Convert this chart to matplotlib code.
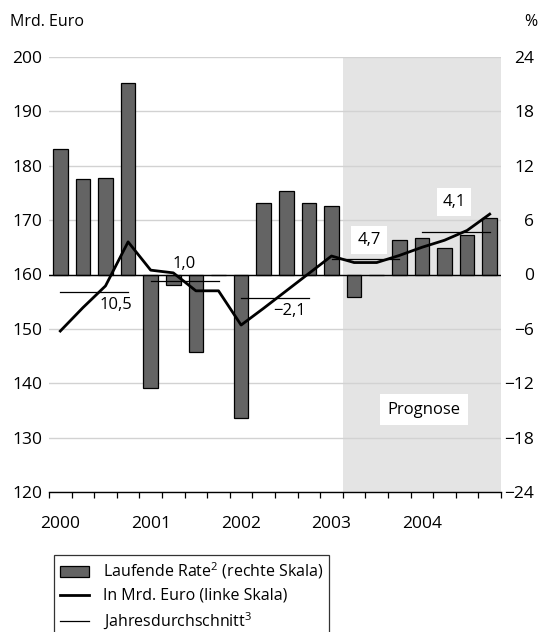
import matplotlib
matplotlib.use("Agg")
import matplotlib.pyplot as plt
from matplotlib.patches import Patch
from matplotlib.lines import Line2D

plt.rcParams['font.family'] = ['Open Sans', 'DejaVu Sans']
plt.rcParams['mathtext.fontset'] = 'custom'
plt.rcParams['mathtext.rm'] = 'Open Sans'
plt.rcParams['mathtext.it'] = 'Open Sans'

# quarterly values 2000 Q1 .. 2004 Q4
years = ["2000", "2001", "2002", "2003", "2004"]
rate = [13.8, 10.5, 10.7, 21.1, -12.5, -1.2, -8.5, 0.0, -15.8, 7.9,
        9.2, 7.9, 7.6, -2.5, 0.0, 3.8, 4.0, 2.9, 4.4, 6.2]
level = [149.6, 153.9, 157.9, 166.0, 160.8, 160.3, 157.0, 157.0, 150.7, 153.8,
         157.0, 160.2, 163.4, 162.2, 162.2, 163.5, 165.0, 166.3, 168.1, 171.1]
year_avg = [156.7, 158.8, 155.6, 162.9, 167.8]
avg_labels = ["10,5", "1,0", "\u22122,1", "4,7", "4,1"]
left_ticks = [120, 130, 140, 150, 160, 170, 180, 190, 200]
right_ticks = [-24, -18, -12, -6, 0, 6, 12, 18, 24]

x = list(range(len(rate)))

fig = plt.figure(figsize=(5.38, 6.32), dpi=100)
ax2 = fig.add_axes([49/538, 1-492/632, 452/538, 435/632])
ax = ax2.twinx()
ax.set_zorder(3)
ax.patch.set_visible(False)

# right scale: shading, grid, bars
ax2.axvspan(12.5, 19.5, color="#e4e4e4", zorder=0.2, lw=0)
ax2.set_axisbelow(True)
ax2.grid(axis="y", color="#d2d2d2", lw=1.0)
ax2.bar(x, rate, width=0.64, color="#646464", edgecolor="black", lw=0.9, zorder=2)
ax2.axhline(0, color="black", lw=1.0, zorder=2.5)
ax2.set_ylim(-24, 24)
ax2.set_xlim(-0.5, 19.5)
ax2.set_yticks(right_ticks)
ax2.set_yticklabels([str(v).replace("-", "\u2212") for v in right_ticks])
ax2.yaxis.tick_right()
ax2.tick_params(axis="y", length=0, pad=24, labelsize=12.5)
for t in ax2.get_yticklabels():
    t.set_horizontalalignment("right")

# bottom axis with quarter ticks and year labels
ax2.set_xticks([0, 4, 8, 12, 16])
ax2.set_xticklabels(years)
ax2.set_xticks([i - 0.5 for i in range(21)], minor=True)
ax2.tick_params(axis="x", which="major", length=0, pad=17, labelsize=12.5)
ax2.tick_params(axis="x", which="minor", length=4.5, width=0.9, direction="out")
for s in ["top", "left", "right"]:
    ax2.spines[s].set_visible(False)
    ax.spines[s].set_visible(False)
ax2.spines["bottom"].set_linewidth(1.0)
ax.spines["bottom"].set_visible(False)

# left scale: level line, yearly averages, labels
ax.plot(x, level, color="black", lw=2.0, zorder=4)
for k, v in enumerate(year_avg):
    ax.plot([4*k, 4*k + 3], [v, v], color="black", lw=0.9, zorder=3.5)
ax.set_ylim(120, 200)
ax.set_yticks(left_ticks)
ax.yaxis.tick_left()
ax.tick_params(axis="y", length=0, pad=5, labelsize=12.5)
ax.tick_params(axis="x", length=0)

lab_pos = [(2.45, 154.3), (5.5, 161.9), (10.15, 153.3), (13.66, 166.3), (17.42, 173.3)]
for (lx, ly), s in zip(lab_pos, avg_labels):
    if s in ("4,7", "4,1"):
        ax.text(lx, ly, s, ha="center", va="center", fontsize=12, zorder=5,
                bbox=dict(boxstyle="square,pad=0.35", fc="white", ec="none"))
    else:
        ax.text(lx, ly, s, ha="center", va="center", fontsize=12, zorder=5)
ax.text(16.1, 135.1, "Prognose", ha="center", va="center", fontsize=12, zorder=5,
        bbox=dict(boxstyle="square,pad=0.45", fc="white", ec="none"))

fig.text(10/538, 1-22/632, "Mrd. Euro", ha="left", va="center", fontsize=11.5)
fig.text(537/538, 1-22/632, "%", ha="right", va="center", fontsize=11.5)

handles = [Patch(facecolor="#646464", edgecolor="black", lw=0.9),
           Line2D([], [], color="black", lw=2.0),
           Line2D([], [], color="black", lw=0.9)]
labels = ["Laufende Rate$^{2}$ (rechte Skala)", "In Mrd. Euro (linke Skala)",
          "Jahresdurchschnitt$^{3}$"]
leg = fig.legend(handles, labels, loc="upper left", bbox_to_anchor=(54/538, 1-555/632),
                 fontsize=11.5, frameon=True, fancybox=False, edgecolor="black",
                 handlelength=1.85, handleheight=0.65, handletextpad=0.85,
                 labelspacing=0.42, borderpad=0.35, borderaxespad=0)
leg.get_frame().set_linewidth(0.9)

fig.savefig("out.png", dpi=100)
